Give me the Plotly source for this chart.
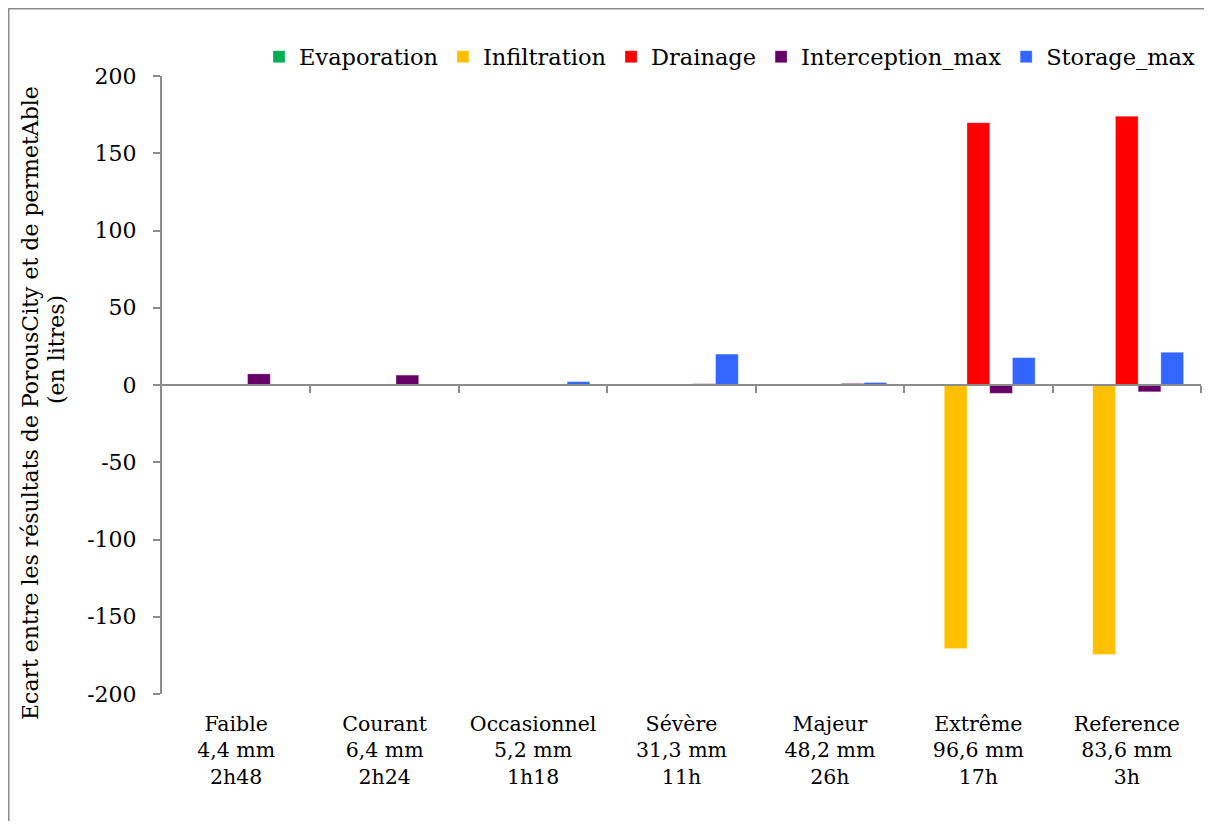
import plotly.graph_objects as go

categories = ["Faible<br>4,4 mm<br>2h48", "Courant<br>6,4 mm<br>2h24", "Occasionnel<br>5,2 mm<br>1h18",
              "Sévère<br>31,3 mm<br>11h", "Majeur<br>48,2 mm<br>26h", "Extrême<br>96,6 mm<br>17h",
              "Reference<br>83,6 mm<br>3h"]
evaporation = [0.1, 0.2, 0.1, 0.1, 0.6, 0.2, 0.3]
infiltration = [0.0, -0.2, 0.0, -0.3, -0.6, -170.5, -174.5]
drainage = [0.0, 0.0, 0.0, 0.0, 0.1, 169.8, 174.0]
interception_max = [7.2, 6.4, 0.2, 0.8, 1.0, -5.4, -4.4]
storage_max = [0.1, -0.6, 2.2, 20.0, 1.6, 17.7, 21.2]

series = [
    ("Evaporation", evaporation, "#00B050"),
    ("Infiltration", infiltration, "#FFC000"),
    ("Drainage", drainage, "#FF0000"),
    ("Interception_max", interception_max, "#660066"),
    ("Storage_max", storage_max, "#3366FF"),
]
yticks = [-200, -150, -100, -50, 0, 50, 100, 150, 200]
yticktext = ["-200", "-150", "-100", "-50", "0", "50", "100", "150", "200"]
ytitle_lines = ["Ecart entre les résultats de PorousCity et de permetAble", "(en litres)"]

FONT = "DejaVu Serif"
# figure sits inside the page body's 8px margin
W, H = 1204, 813
L, R, T, B = 154, 11, 68, 127
PW, PH = W - L - R, H - T - B

fig = go.Figure()
for name, vals, col in series:
    fig.add_trace(go.Bar(x=categories, y=vals, name=name,
                         marker=dict(color=col, line=dict(color="rgba(255,255,255,0.6)", width=0.5))))

boundaries = [i + 0.5 for i in range(len(categories))]
fig.add_trace(go.Scatter(x=[], y=[], xaxis="x2", yaxis="y", showlegend=False, hoverinfo="skip"))

# rotated y-axis title lines (fig pixel positions -> paper coords)
for txt, px, py in [(ytitle_lines[0], 22, 395), (ytitle_lines[1], 49, 342)]:
    fig.add_annotation(text=txt, xref="paper", yref="paper", x=(px - L) / PW, y=1 - (py - T) / PH,
                       textangle=-90, showarrow=False, xanchor="center", yanchor="middle",
                       font=dict(size=22, family=FONT, color="black"))

fig.update_layout(
    width=W, height=H,
    margin=dict(l=L, r=R, t=T, b=B),
    paper_bgcolor="white", plot_bgcolor="white",
    font=dict(family=FONT, size=21, color="black"),
    barmode="group", bargap=0.235, bargroupgap=0,
    xaxis=dict(type="category", showline=False, ticks="", showgrid=False, zeroline=False,
               tickfont=dict(size=20.5), ticklabelstandoff=15),
    xaxis2=dict(overlaying="x", anchor="free", position=0.5, range=[-0.5, len(categories) - 0.5],
                tickvals=boundaries, ticks="outside", ticklen=7, tickcolor="#8c8c8c", tickwidth=2,
                showticklabels=False, showline=True, linecolor="#8c8c8c", linewidth=2,
                showgrid=False, zeroline=False),
    yaxis=dict(range=[-200, 200], tickvals=yticks, ticktext=yticktext, ticks="outside", ticklen=7,
               tickcolor="#8c8c8c", tickwidth=2, showline=True, linecolor="#8c8c8c", linewidth=2,
               showgrid=False, zeroline=False, tickfont=dict(size=22), ticklabelstandoff=12),
    legend=dict(orientation="h", x=1.0, xanchor="right", y=1 + (T - 49) / PH, yanchor="middle",
                font=dict(size=22.5), itemwidth=30, bgcolor="rgba(0,0,0,0)", traceorder="normal"),
    shapes=[dict(type="rect", xref="paper", yref="paper", x0=(0.5 - L) / PW, x1=1.05,
                 y0=-0.3, y1=1 + (T - 0.5) / PH, line=dict(color="#8c8c8c", width=2),
                 fillcolor="rgba(0,0,0,0)", layer="below")],
)
fig.write_html("out.html")
